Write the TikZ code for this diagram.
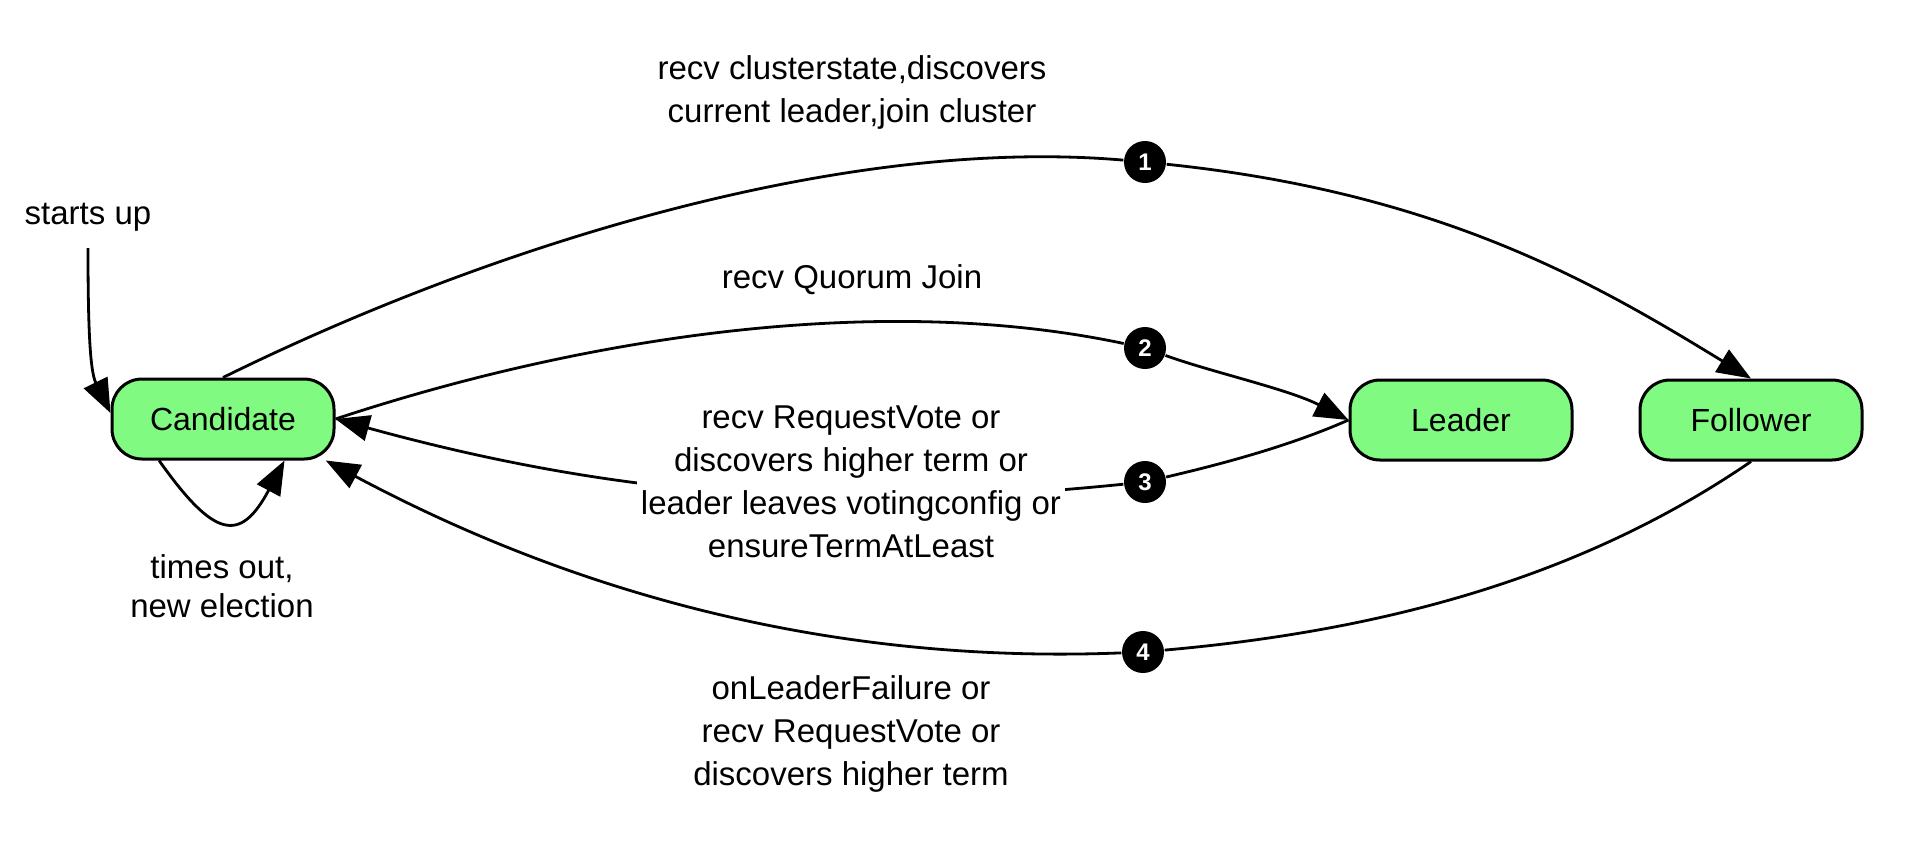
\documentclass[tikz,border=0pt]{standalone}
\usepackage{fontspec}
\setmainfont{Liberation Sans}
\usetikzlibrary{arrows.meta}
\definecolor{stategreen}{RGB}{128,250,128}
\tikzset{every picture/.style={line width=0.75pt}}

\begin{document}
\begin{tikzpicture}[x=0.5pt,y=0.5pt,yscale=-1,xscale=1,
  state/.style={draw, fill=stategreen, line width=1.5pt, rounded corners=15pt, minimum width=111pt, minimum height=40pt, font=\fontsize{16}{19}\selectfont},
  badge/.style={circle, fill=black, minimum size=21pt, inner sep=0pt, text=white, font=\fontsize{12}{14}\selectfont\bfseries},
  lbl/.style={align=center, font=\fontsize{16.5}{21.5}\selectfont},
  arr/.style={line width=1.4pt, -{Triangle[length=17pt,width=13pt]}}]
%set diagram left start at 0, and has height of 848
\useasboundingbox (0,0) rectangle (1926,848);

%Shape: States
\draw (223,419) node [state] (cand) {Candidate};
\draw (1461,420) node [state] (lead) {Leader};
\draw (1751,420) node [state] (foll) {Follower};

%Shape: Badges
\draw (1145,162) node [badge] (b1) {1};
\draw (1145,348) node [badge] (b2) {2};
\draw (1145,482) node [badge] (b3) {3};
\draw (1143,652) node [badge] (b4) {4};

%Curve Lines: start
\coordinate (start) at (88,248);
\draw [arr] (start) .. controls (88,328) and (90,371) .. (cand.west |- 0,413);

%Curve Lines: self loop
\draw [arr] (cand.-147) .. controls (214,538) and (240,544) .. (cand.-34);

%Curve Lines: 1
\draw [arr] (cand.north) .. controls (494,244) and (845,136) .. (b1) .. controls (1443,193) and (1598,285) .. (foll.north);

%Curve Lines: 2
\draw [arr] (cand.east) .. controls (571,341) and (871,290) .. (b2) .. controls (1211,372) and (1288,389) .. (lead.west);

%Curve Lines: 3
\draw [arr] (lead.west) .. controls (1285,448) and (1213,466) .. (b3) .. controls (848,512) and (626,499) .. (cand.east);

%Curve Lines: 4
\draw [arr] (foll.south) .. controls (1587,574) and (1392,630) .. (b4) .. controls (843,664) and (585,599) .. (cand.-22);

% Text Node
\draw (88,217) node [lbl] (starts) {starts up};
% Text Node
\draw (222,586) node [lbl, font=\fontsize{16.5}{19.5}\selectfont] (timeout) {times out,\\new election};
% Text Node
\draw (852,92) node [lbl] (lab1) {recv clusterstate,discovers\\current leader,join cluster};
% Text Node
\draw (852,280) node [lbl] (lab2) {recv Quorum Join};
% Text Node
\draw (851,482) node [lbl, fill=white, inner sep=2pt] (lab3) {recv RequestVote or\\discovers higher term or\\leader leaves votingconfig or\\ensureTermAtLeast};
% Text Node
\draw (851,734) node [lbl] (lab4) {onLeaderFailure or\\recv RequestVote or\\discovers higher term};

\end{tikzpicture}
\end{document}
